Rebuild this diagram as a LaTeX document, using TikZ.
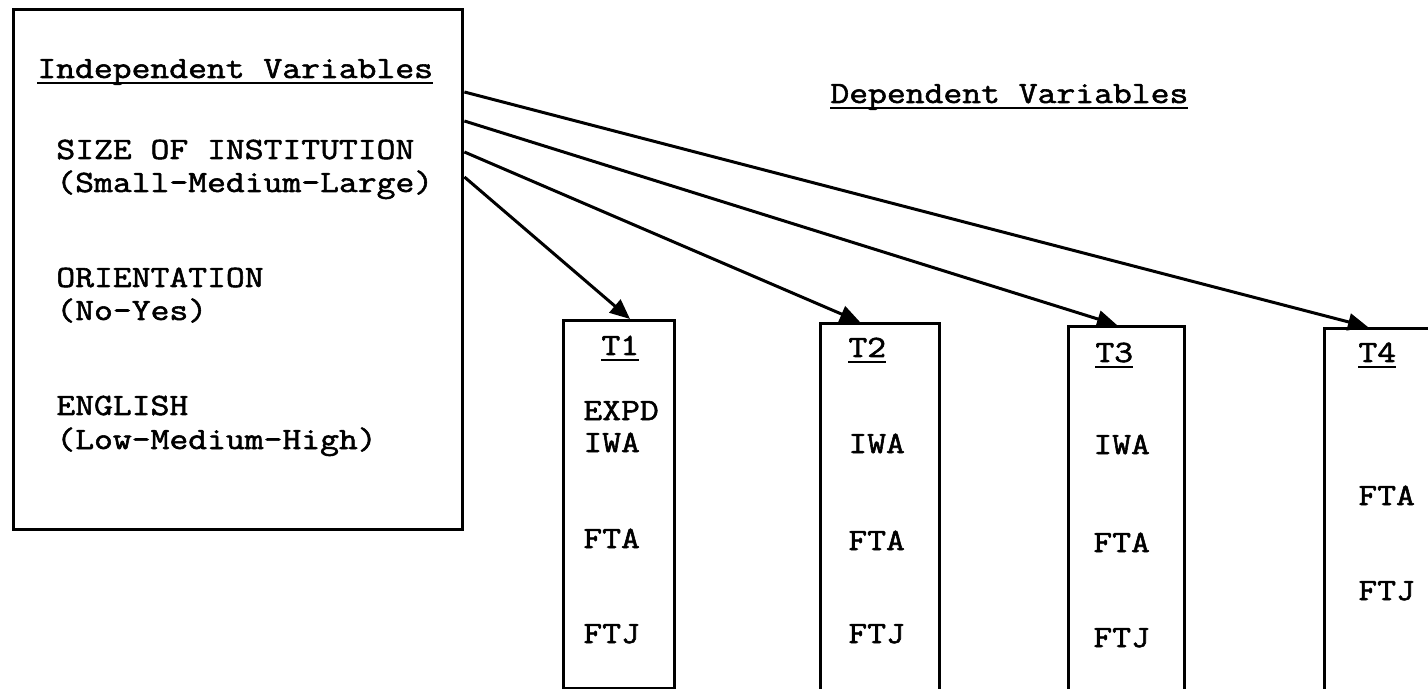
\documentclass[tikz,border=0pt]{standalone}
\usepackage{fontspec}
\usetikzlibrary{arrows.meta}
\newfontfamily\tw{Latin Modern Mono}[FakeStretch=1.18, FakeBold=1.8]
% typed underline: a rule under the whole word group
\newcommand\ulx[1]{\setbox0\hbox{#1}\rlap{\raisebox{-3.2pt}{\rule{\wd0}{1.2pt}}}\box0}
\tikzset{
  lbl/.style={anchor=base west, inner sep=0pt, font=\tw\fontsize{15.5}{16}\selectfont},
  frame/.style={draw, line width=1.7pt, anchor=north west, inner sep=0pt},
  conn/.style={line width=1.5pt, -{Triangle[length=10pt,width=8.5pt]}}
}
\begin{document}
\begin{tikzpicture}[x=0.5pt,y=-0.5pt]
\clip (0,0) rectangle (1428,689);
\fill[white] (0,0) rectangle (1428,689);

% independent variables box
\node[frame, minimum width=224.5pt, minimum height=260pt] (ind) at (12,8) {};
\node[lbl] (indh) at (37,78) {\ulx{Independent Variables}};
\node[lbl] (size) at (56,159) {SIZE OF INSTITUTION};
\node[lbl] (sizer) at (56,192) {(Small-Medium-Large)};
\node[lbl] (ori) at (56,287) {ORIENTATION};
\node[lbl] (orir) at (56,320) {(No-Yes)};
\node[lbl] (eng) at (56,415) {ENGLISH};
\node[lbl] (engr) at (56,449) {(Low-Medium-High)};

% dependent variables heading
\node[lbl] (dep) at (830,103) {\ulx{Dependent Variables}};

% time columns
\node[frame, minimum width=55.5pt, minimum height=184pt] (t1) at (562,319) {};
\node[frame, minimum width=59.5pt, minimum height=200pt] (t2) at (819,322) {};
\node[frame, minimum width=58pt, minimum height=200pt] (t3) at (1067,325) {};
\node[frame, minimum width=80pt, minimum height=200pt] (t4) at (1323,327) {};

\node[lbl] (t1h) at (601,355) {\ulx{T1}};
\node[lbl] (t1a) at (583,420) {EXPD};
\node[lbl] (t1b) at (583,452) {IWA};
\node[lbl] (t1c) at (583,548) {FTA};
\node[lbl] (t1d) at (583,643) {FTJ};

\node[lbl] (t2h) at (848,357) {\ulx{T2}};
\node[lbl] (t2b) at (848,453) {IWA};
\node[lbl] (t2c) at (848,550) {FTA};
\node[lbl] (t2d) at (848,643) {FTJ};

\node[lbl] (t3h) at (1095,362) {\ulx{T3}};
\node[lbl] (t3b) at (1093,454) {IWA};
\node[lbl] (t3c) at (1093,552) {FTA};
\node[lbl] (t3d) at (1093,647) {FTJ};

\node[lbl] (t4h) at (1358,362) {\ulx{T4}};
\node[lbl] (t4c) at (1358,505) {FTA};
\node[lbl] (t4d) at (1358,600) {FTJ};

% connector ends
\path (ind.north east) ++(0,84) coordinate (o1);
\path (ind.north east) ++(0,113) coordinate (o2);
\path (ind.north east) ++(0,144) coordinate (o3);
\path (ind.north east) ++(0,169) coordinate (o4);
\path (t1.north west) ++(68,0) coordinate (e1);
\path (t2.north west) ++(41,0) coordinate (e2);
\path (t3.north west) ++(50,0) coordinate (e3);
\path (t4.north west) ++(45,0) coordinate (e4);

\draw[conn] (o1) -- (e4);
\draw[conn] (o2) -- (e3);
\draw[conn] (o3) -- (e2);
\draw[conn] (o4) -- (e1);
\end{tikzpicture}
\end{document}
